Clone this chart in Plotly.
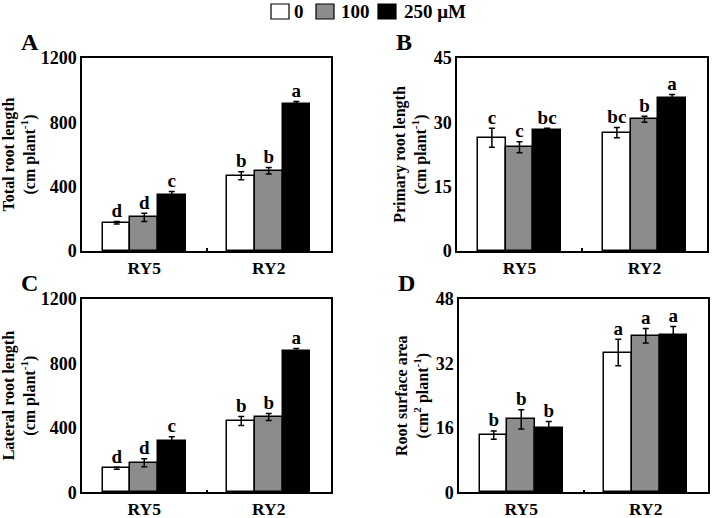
import plotly.graph_objects as go

categories = ["RY5", "RY2"]
treatments = ["0", "100", "250 μM"]
colors = ["#ffffff", "#8c8c8c", "#000000"]

# Panel A: total root length
total_len = {"0": [176, 468], "100": [209, 499], "250 μM": [348, 912]}
total_err = {"0": [8, 25], "100": [25, 20], "250 μM": [22, 18]}
total_sig = {"0": ["d", "b"], "100": ["d", "b"], "250 μM": ["c", "a"]}

# Panel B: primary root length
prim_len = {"0": [26.4, 27.6], "100": [24.2, 30.7], "250 μM": [28.2, 35.7]}
prim_err = {"0": [2.2, 1.2], "100": [1.3, 0.7], "250 μM": [0.4, 0.8]}
prim_sig = {"0": ["c", "bc"], "100": ["c", "b"], "250 μM": ["bc", "a"]}

# Panel C: lateral root length
lat_len = {"0": [149, 443], "100": [184, 467], "250 μM": [317, 875]}
lat_err = {"0": [6, 28], "100": [25, 22], "250 μM": [28, 18]}
lat_sig = {"0": ["d", "b"], "100": ["d", "b"], "250 μM": ["c", "a"]}

# Panel D: root surface area
area_val = {"0": [14.2, 34.7], "100": [18.1, 38.9], "250 μM": [16.0, 39.1]}
area_err = {"0": [1.0, 3.3], "100": [2.4, 1.8], "250 μM": [1.6, 2.1]}
area_sig = {"0": ["b", "a"], "100": ["b", "a"], "250 μM": ["b", "a"]}

panels = [
    ("A", total_len, total_err, total_sig, "Total root length<br>(cm plant<sup>-1</sup>)", [0, 400, 800, 1200]),
    ("B", prim_len, prim_err, prim_sig, "Primary root length<br>(cm plant<sup>-1</sup>)", [0, 15, 30, 45]),
    ("C", lat_len, lat_err, lat_sig, "Lateral root length<br>(cm plant<sup>-1</sup>)", [0, 400, 800, 1200]),
    ("D", area_val, area_err, area_sig, "Root surface area<br>(cm<sup>2</sup> plant<sup>-1</sup>)", [0, 16, 32, 48]),
]

W, H = 712, 518
px_dom = {
    "A": ((82, 331), (58, 251)),
    "B": ((457, 707), (58, 251)),
    "C": ((82, 331), (299, 492.3)),
    "D": ((459, 708), (299, 492.3)),
}

FONT = "Liberation Serif"
bw = 0.221
offsets = [-bw, 0, bw]

fig = go.Figure()
layout = {}
annotations = []
shapes = []
for i, (letter, vals, errs, sigs, ytitle, ticks) in enumerate(panels):
    n = "" if i == 0 else str(i + 1)
    xa, ya = "x" + n, "y" + n
    for j, t in enumerate(treatments):
        xs = [k + offsets[j] for k in range(len(categories))]
        fig.add_trace(go.Bar(
            x=xs, y=vals[t], width=bw, name=t,
            marker=dict(color=colors[j], line=dict(color="black", width=1.5)),
            error_y=dict(type="data", array=errs[t], color="black", thickness=1.5, width=3),
            xaxis=xa, yaxis=ya, showlegend=False,
        ))
        fig.add_trace(go.Scatter(
            x=xs, y=[v + e for v, e in zip(vals[t], errs[t])], mode="text",
            text=sigs[t], textposition="top center",
            textfont=dict(family=FONT, size=19, color="black", weight="bold"),
            xaxis=xa, yaxis=ya, showlegend=False, hoverinfo="skip", cliponaxis=False,
        ))
    (x0, x1), (y0, y1) = px_dom[letter]
    layout["xaxis" + n] = dict(
        domain=[x0 / W, x1 / W], anchor=ya, range=[-0.5, 1.5],
        tickvals=list(range(len(categories))), ticktext=categories, ticks="",
        tickfont=dict(family=FONT, size=17.5, color="black", weight="bold"),
        showline=True, linecolor="black", linewidth=1.5, mirror=True,
        showgrid=False, zeroline=False, automargin=False,
        minor=dict(tickvals=[0.5], ticks="inside", ticklen=3, tickcolor="black", tickwidth=1.5),
    )
    layout["yaxis" + n] = dict(
        domain=[1 - y1 / H, 1 - y0 / H], anchor=xa, range=[0, ticks[-1]],
        tickvals=ticks, ticks="",
        tickfont=dict(family=FONT, size=18, color="black", weight="bold"),
        showline=True, linecolor="black", linewidth=1.5, mirror=True,
        showgrid=False, zeroline=False, automargin=False,
        title=dict(text=ytitle, font=dict(family=FONT, size=16, color="black", weight="bold"), standoff=3),
    )
    annotations.append(dict(
        text=letter, xref="paper", yref="paper",
        x=(x0 - 63) / W, y=1 - (y0 - 31) / H, xanchor="left", yanchor="top",
        showarrow=False, font=dict(family=FONT, size=24, color="black", weight="bold"),
    ))

# custom legend (swatch + label), laid out in pixels across the top
legend_px = [(271, 292), (316, 339), (378, 402)]
for j, t in enumerate(treatments):
    bx, tx = legend_px[j]
    shapes.append(dict(type="rect", xref="paper", yref="paper",
                       x0=bx / W, x1=(bx + 18) / W, y0=1 - 19 / H, y1=1 - 4 / H,
                       fillcolor=colors[j], line=dict(color="black", width=1.2)))
    annotations.append(dict(text=t, xref="paper", yref="paper", x=tx / W, y=1 - 11.5 / H,
                            xanchor="left", yanchor="middle", showarrow=False,
                            font=dict(family=FONT, size=19, color="black", weight="bold")))

fig.update_layout(
    **layout,
    annotations=annotations,
    shapes=shapes,
    width=W, height=H,
    margin=dict(l=0, r=0, t=0, b=0, autoexpand=False),
    plot_bgcolor="white", paper_bgcolor="white",
    bargap=0, barmode="overlay", showlegend=False,
    font=dict(family=FONT, color="black"),
)

fig.write_html("out.html", config={"displayModeBar": False},
               post_script="document.body.style.margin='0px';document.body.style.overflow='hidden';")
